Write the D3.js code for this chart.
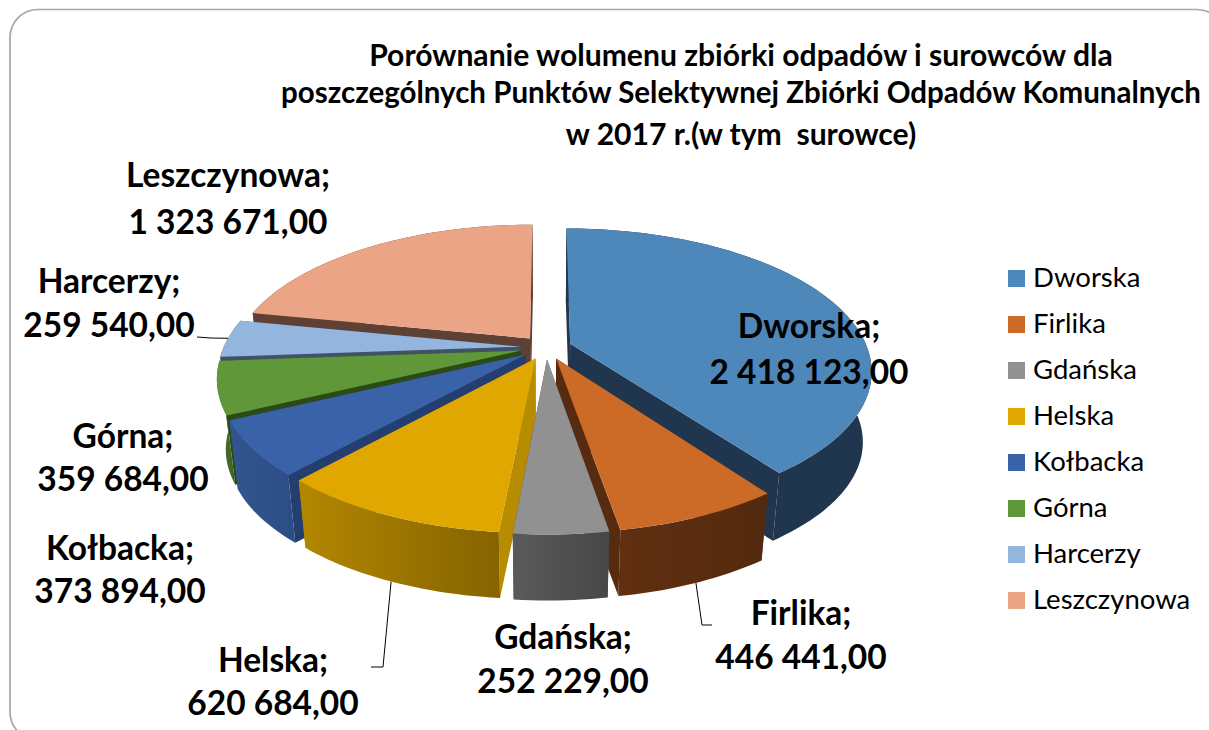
<!DOCTYPE html>
<html>
<head>
<meta charset="utf-8">
<script src="https://cdn.jsdelivr.net/npm/d3@7"></script>
<style>
  html, body { margin: 0; padding: 0; background: #fff; overflow: hidden; }
  text { font-family: Lato, "Open Sans", sans-serif; fill: #000; white-space: pre; }
</style>
</head>
<body>
<svg id="chart" width="1209" height="730"></svg>
<script>
// data
const categories = ["Dworska", "Firlika", "Gdańska", "Helska", "Kołbacka", "Górna", "Harcerzy", "Leszczynowa"];
const values = [2418123, 446441, 252229, 620684, 373894, 359684, 259540, 1323671];
const valueLabels = ["2 418 123,00", "446 441,00", "252 229,00", "620 684,00", "373 894,00", "359 684,00", "259 540,00", "1 323 671,00"];
const titleLines = [
  "Porównanie wolumenu zbiórki odpadów i surowców dla",
  "poszczególnych Punktów Selektywnej Zbiórki Odpadów Komunalnych",
  "w 2017 r.(w tym  surowce)"
];

// colours: top face, cut face, outer wall left / right
const topColors = ["#4e87b9", "#cc6b27", "#919191", "#e0a700", "#3a62a9", "#609739", "#94b6de", "#eba486"];
const cutColors = ["#20364e", "#572b10", "#4a4a4a", "#b88c00", "#243e70", "#2c4a16", "#3f5268", "#5f4035"];
const wallLeft = ["#20364e", "#612f11", "#5a5a5a", "#b38700", "#33568f", "#4d7a2f", "#3f5268", "#5f4035"];
const wallRight = ["#20364e", "#532a0e", "#474747", "#856400", "#2c4c84", "#3c6024", "#3f5268", "#5f4035"];

// label layout: centre x, first and second line baselines
const labelPos = [[809, 338, 384], [801, 625, 669], [563, 649, 693], [273, 672, 715], [120, 560, 603], [123, 448, 491], [109, 293, 337], [228, 187, 234]];

const svg = d3.select("#chart");

// frame
svg.append("rect")
  .attr("x", 10).attr("y", 9.5).attr("width", 1215).attr("height", 730.5)
  .attr("rx", 28).attr("ry", 28)
  .attr("fill", "#fff").attr("stroke", "#a6a6a6").attr("stroke-width", 1.7);

// title
svg.selectAll(".title").data(titleLines).join("text")
  .attr("class", "title")
  .attr("x", 741)
  .attr("y", (d, i) => [66, 103, 145][i])
  .attr("text-anchor", "middle")
  .attr("font-weight", "bold")
  .attr("font-size", (d, i) => [30.1, 29.5, 30.1][i])
  .text(d => d);

// perspective of the tilted pie
const cx = 546, cy = 347.5;
const R = 297, tilt = 0.464, persp = 0.184;
const explode = 0.086;
const depth = 71, bottomScale = 0.973;

function project(x, y, bottom) {
  let w = 1 / (1 - persp * y);
  let px = x * R * w;
  let py = y * R * tilt * w;
  if (bottom) return [cx + px * bottomScale, cy + depth + py * bottomScale];
  return [cx + px, cy + py];
}

const pie = d3.pie().sort(null).value(d => d);
const slices = pie(values).map((d, i) => {
  let mid = (d.startAngle + d.endAngle) / 2;
  return {
    i: i,
    start: d.startAngle,
    end: d.endAngle,
    ox: explode * Math.sin(mid),
    oy: -explode * Math.cos(mid),
    mid: mid
  };
});

function rimPoint(s, a, bottom) {
  return project(s.ox + Math.sin(a), s.oy - Math.cos(a), bottom);
}
function rim(s, bottom) {
  let n = Math.max(8, Math.ceil((s.end - s.start) * 40));
  return d3.range(n + 1).map(j => rimPoint(s, s.start + (s.end - s.start) * j / n, bottom));
}
function apex(s, bottom) {
  return project(s.ox, s.oy, bottom);
}

const line = d3.line();
const defs = svg.append("defs");
const pieGroup = svg.append("g");

// back to front
const order = [7, 6, 5, 4, 0, 1, 3, 2];
order.forEach(idx => {
  let s = slices[idx];
  let g = pieGroup.append("g");
  let top = rim(s, false), low = rim(s, true);

  // gradient of the outer wall, in page coordinates
  let xs = top.concat(low).map(p => p[0]);
  let grad = defs.append("linearGradient")
    .attr("id", "wall" + idx)
    .attr("gradientUnits", "userSpaceOnUse")
    .attr("x1", d3.min(xs)).attr("x2", d3.max(xs)).attr("y1", 0).attr("y2", 0);
  grad.append("stop").attr("offset", 0).attr("stop-color", wallLeft[idx]);
  grad.append("stop").attr("offset", 1).attr("stop-color", wallRight[idx]);

  // cut faces
  [s.start, s.end].forEach(a => {
    let face = [apex(s, false), rimPoint(s, a, false), rimPoint(s, a, true), apex(s, true)];
    g.append("path").attr("d", line(face) + "Z").attr("fill", cutColors[idx]);
  });
  // outer wall
  g.append("path").attr("d", line(top.concat(low.slice().reverse())) + "Z").attr("fill", "url(#wall" + idx + ")");
  // top
  g.append("path").attr("d", line([apex(s, false)].concat(top)) + "Z").attr("fill", topColors[idx]);
});

// leader lines: from the wall bottom out to the label
function leader(idx, at, elbow, end) {
  let s = slices[idx];
  let p = at === "wall" ? rimPoint(s, s.mid, true) : rimPoint(s, s.mid, false);
  svg.append("path")
    .attr("d", line([p, elbow, end]))
    .attr("fill", "none").attr("stroke", "#000").attr("stroke-width", 1);
}
leader(1, "wall", [702, 625], [712, 625]);
leader(3, "wall", [383, 667], [371, 667]);
leader(6, "top", [211, 338], [197, 337]);

// data labels
const labels = svg.selectAll(".label").data(categories).join("g").attr("class", "label");
labels.append("text")
  .attr("x", (d, i) => labelPos[i][0]).attr("y", (d, i) => labelPos[i][1])
  .attr("text-anchor", "middle").attr("font-weight", "bold").attr("font-size", 33.5)
  .text(d => d + ";");
labels.append("text")
  .attr("x", (d, i) => labelPos[i][0]).attr("y", (d, i) => labelPos[i][2])
  .attr("text-anchor", "middle").attr("font-weight", "bold").attr("font-size", 33.5)
  .text((d, i) => valueLabels[i]);

// legend
const legend = svg.selectAll(".legend").data(categories).join("g")
  .attr("class", "legend")
  .attr("transform", (d, i) => "translate(1008," + (270 + i * 46) + ")");
legend.append("rect").attr("width", 17).attr("height", 17).attr("fill", (d, i) => topColors[i]);
legend.append("text").attr("x", 25).attr("y", 17).attr("font-size", 27.5).text(d => d);
</script>
</body>
</html>
